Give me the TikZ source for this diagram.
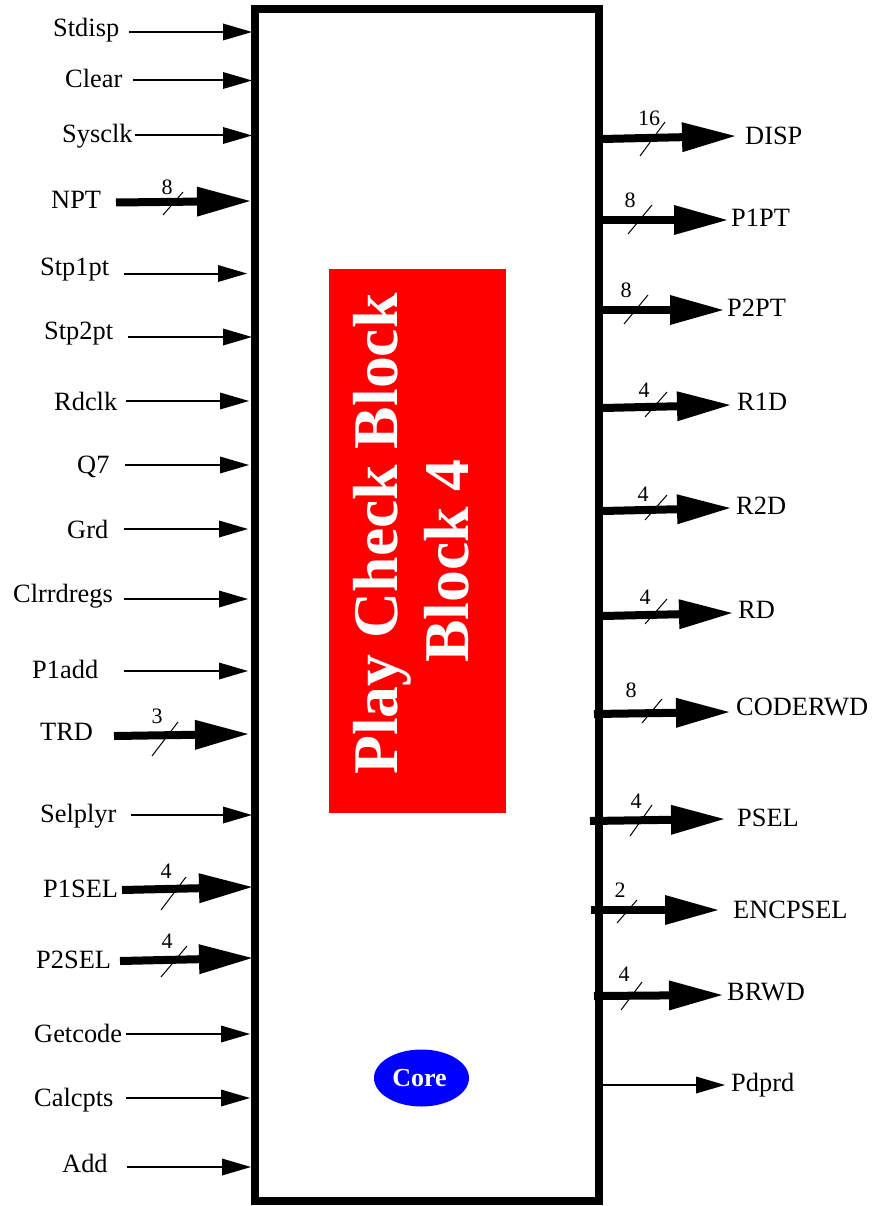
\documentclass[tikz,border=0pt]{standalone}
\usepackage{fontspec}
\setmainfont{Liberation Serif}
\usetikzlibrary{arrows.meta,shapes.geometric}
\definecolor{corered}{RGB}{255,0,0}
\definecolor{coreblue}{RGB}{0,0,255}
\tikzset{
  sig/.style={inner sep=0pt,anchor=base west,yshift=-0.8pt,font=\fontsize{26.4}{26.4}\selectfont},
  num/.style={inner sep=0pt,font=\fontsize{22}{22}\selectfont},
  thinarrow/.style={line width=2pt,-{Triangle[length=29pt,width=17pt,line width=0pt]}},
  thickarrow/.style={line width=8pt,-{Triangle[length=53pt,width=30pt,line width=0pt]}},
  tick/.style={line width=1pt},
  title/.style={inner sep=0pt,anchor=base,rotate=90,text=white,font=\fontsize{63.7}{63.7}\selectfont\bfseries}
}
% name, label, label x, baseline, from x, from y, to x, to y
\newcommand{\thinsig}[8]{
  \node[sig] (#1) at (#3,#4) {#2};
  \coordinate (#1s) at (#5,#6);
  \coordinate (#1e) at (#7,#8);
  \draw[thinarrow] (#1s) -- (#1e);
}
\newcommand{\thicksig}[8]{
  \node[sig] (#1) at (#3,#4) {#2};
  \coordinate (#1s) at (#5,#6);
  \coordinate (#1e) at (#7,#8);
  \draw[thickarrow] (#1s) -- (#1e);
}
% name, number, num x, num y, tick x0,y0,x1,y1
\newcommand{\bus}[8]{
  \node[num] (#1n) at (#3,#4) {#2};
  \coordinate (#1a) at (#5,#6);
  \coordinate (#1b) at (#7,#8);
  \draw[tick] (#1a) -- (#1b);
}
\begin{document}
\begin{tikzpicture}[x=1pt,y=-1pt]
\useasboundingbox (0,0) rectangle (871,1206);
\node[draw,line width=8pt,minimum width=344pt,minimum height=1192pt,inner sep=0pt,outer sep=0pt] (box) at (427,605) {};
\node[fill=corered,minimum width=177pt,minimum height=544pt,inner sep=0pt] (red) at (417.5,541) {};
\node[title] (t1) at (397,534) {Play Check Block};
\node[title] (t2) at (468,561) {Block 4};
\node[fill=coreblue,ellipse,minimum width=95pt,minimum height=57pt,inner sep=0pt] (core) at (421.5,1078) {};
\node[inner sep=0pt,anchor=base,text=white,font=\fontsize{26}{26}\selectfont\bfseries] (corelabel) at (419.5,1086) {Core};
% inputs
\thinsig{stdisp}{Stdisp}{53}{36}{129}{32}{252}{32}
\thinsig{clear}{Clear}{65}{87}{133}{80.5}{252}{80.5}
\thinsig{sysclk}{Sysclk}{62}{142}{135}{135.5}{252}{135.5}
\thicksig{npt}{NPT}{51}{208}{116}{202.5}{250}{201}
\bus{npt}{8}{167}{187}{163}{215}{183}{192}
\thinsig{stpa}{Stp1pt}{40}{275}{124}{273.5}{247}{273.5}
\thinsig{stpb}{Stp2pt}{44}{339}{128}{337}{252}{337}
\thinsig{rdclk}{Rdclk}{54}{410}{126}{401}{249}{401}
\thinsig{qseven}{Q7}{77}{473}{125}{465}{249}{465}
\thinsig{grd}{Grd}{67}{538}{124}{529}{248}{529}
\thinsig{clrrd}{Clrrdregs}{13}{602}{124}{599}{248}{599}
\thinsig{padd}{P1add}{32}{678}{124}{671}{248}{671}
\thicksig{trd}{TRD}{40}{740}{114}{736}{248}{734}
\bus{trd}{3}{157}{716}{152}{756}{178}{722}
\thinsig{selp}{Selplyr}{40}{822}{131}{815}{252}{815}
\thicksig{psa}{P1SEL}{43}{897}{122}{890}{252}{887}
\bus{psa}{4}{166}{871}{161}{910}{186}{877}
\thicksig{psb}{P2SEL}{36}{968}{120}{961}{252}{958}
\bus{psb}{4}{167}{941}{161}{977}{187}{946}
\thinsig{getc}{Getcode}{34}{1042}{126}{1034}{250}{1034}
\thinsig{calc}{Calcpts}{34}{1106}{126}{1098}{250}{1098}
\thinsig{add}{Add}{62}{1172}{127}{1167}{251}{1167}
% outputs
\thicksig{disp}{DISP}{745}{144}{602}{139}{735}{136}
\bus{disp}{16}{649}{118}{640}{156}{665}{122}
\thicksig{ppa}{P1PT}{731}{226}{603}{220}{727}{220}
\bus{ppa}{8}{630}{200}{628}{234}{652}{205}
\thicksig{ppb}{P2PT}{727}{316}{603}{310}{723}{310}
\bus{ppb}{8}{626}{290}{624}{324}{648}{295}
\thicksig{ra}{R1D}{737}{410}{603}{408}{730}{405}
\bus{ra}{4}{644}{390}{645}{417}{667}{392}
\thicksig{rb}{R2D}{736}{514}{603}{511}{730}{508}
\bus{rb}{4}{643}{494}{645}{520}{667}{495}
\thicksig{rd}{RD}{738}{618}{603}{616}{732}{613}
\bus{rd}{4}{645}{597}{645}{624}{667}{599}
\thicksig{code}{CODERWD}{736}{715}{594}{714}{729}{712}
\bus{code}{8}{631}{690}{642}{723}{662}{699}
\thicksig{psel}{PSEL}{737}{826}{590}{821}{724}{819}
\bus{psel}{4}{636}{801}{630}{836}{652}{805}
\thicksig{enc}{ENCPSEL}{733}{918}{591}{910}{718}{910}
\bus{enc}{2}{620}{890}{617}{923}{637}{900}
\thicksig{brwd}{BRWD}{727}{1000}{594}{996}{722}{995}
\bus{brwd}{4}{624}{974}{621}{1010}{642}{982}
\thinsig{pdprd}{Pdprd}{731}{1091}{602}{1085}{725}{1085}
\end{tikzpicture}
\end{document}
